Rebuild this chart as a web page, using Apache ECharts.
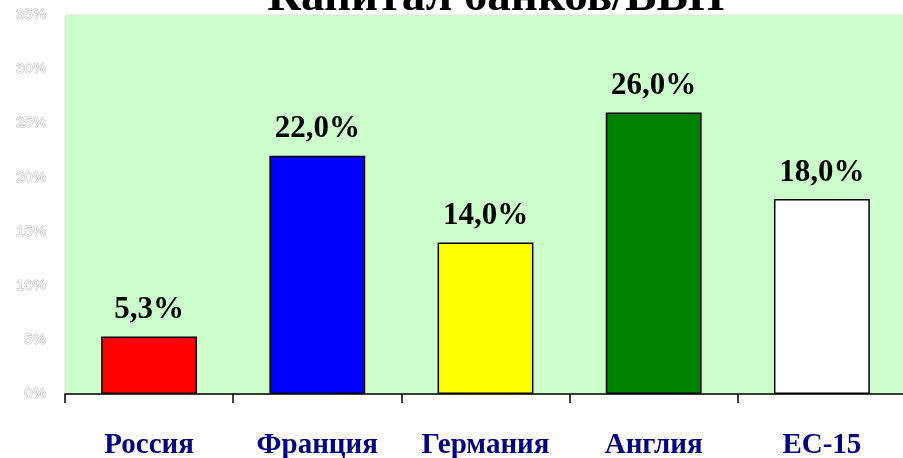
<!DOCTYPE html>
<html><head><meta charset="utf-8">
<script src="https://cdn.jsdelivr.net/npm/echarts@6/dist/echarts.min.js"></script>
<style>html,body{margin:0;padding:0;background:#fff}#c{width:903px;height:458px}</style>
</head><body><div id="c"></div>
<script>
const categories = ['Россия', 'Франция', 'Германия', 'Англия', 'ЕС-15'];
const values = [5.3, 22.0, 14.0, 26.0, 18.0];
const barColors = ['#FF0000', '#0000FF', '#FFFF00', '#008000', '#FFFFFF'];
const yTicks = [0, 5, 10, 15, 20, 25, 30, 35];

const chart = echarts.init(document.getElementById('c'));
chart.setOption({
  animation: false,
  title: {
    text: 'Капитал банков/ВВП',
    left: 491, textAlign: 'center', top: -31,
    textStyle: {fontFamily: 'Liberation Serif', fontWeight: 'bold', fontSize: 47, color: '#000'}
  },
  grid: {left: 65, top: 15, width: 841, bottom: 64, outerBoundsMode: 'none', containLabel: false,
    show: true, backgroundColor: '#CCFFCC', borderColor: '#e0e0e0', borderWidth: 1},
  xAxis: {
    type: 'category', data: categories,
    axisLine: {lineStyle: {color: '#000', width: 1.5}},
    axisTick: {show: true, length: 9, lineStyle: {color: '#000', width: 1.5}},
    axisLabel: {margin: 37, fontFamily: 'Liberation Serif', fontWeight: 'bold', fontSize: 29, color: '#000080'}
  },
  yAxis: {
    type: 'value', min: yTicks[0], max: yTicks[yTicks.length - 1], interval: 5,
    splitLine: {show: false},
    axisLine: {show: false}, axisTick: {show: false},
    axisLabel: {formatter: '{value}%', margin: 19, fontFamily: 'Liberation Sans', fontSize: 15,
      color: '#fff', textBorderColor: '#c0c0c0', textBorderWidth: 1.2}
  },
  series: [{
    type: 'bar', barWidth: '57%',
    data: values.map((v, i) => ({value: v, itemStyle: {color: barColors[i]}})),
    itemStyle: {borderColor: '#000', borderWidth: 1.5},
    label: {show: true, position: 'top', distance: 11,
      formatter: p => p.value.toFixed(1).replace('.', ',') + '%',
      fontFamily: 'Liberation Serif', fontWeight: 'bold', fontSize: 31, color: '#000'}
  }]
});
</script></body></html>
